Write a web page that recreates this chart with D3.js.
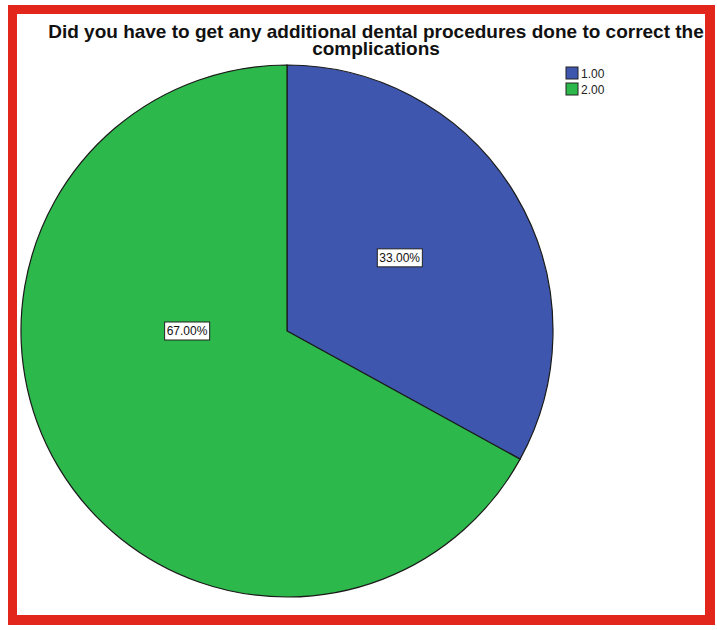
<!DOCTYPE html>
<html><head><meta charset="utf-8">
<script src="https://cdn.jsdelivr.net/npm/d3@7"></script>
<style>html,body{margin:0;padding:0;background:#fff;}svg{display:block;}</style>
</head><body>
<svg id="chart" width="717" height="630"></svg>
<script>
const categories = ["1.00", "2.00"];
const values = [33, 67];
const valueLabels = ["33.00%", "67.00%"];
const titleLines = ["Did you have to get any additional dental procedures done to correct the", "complications"];
const colors = ["#3E56AD", "#2DB84B"];

const svg = d3.select("#chart");
const W = 717, H = 630;
svg.append("rect").attr("width", W).attr("height", H).attr("fill", "#fff");

const cx = 287, cy = 331, R = 266;
const pie = d3.pie().sort(null).value(d => d)(values);
const arc = d3.arc().innerRadius(0).outerRadius(R);
const g = svg.append("g").attr("transform", `translate(${cx},${cy})`);
g.selectAll("path.slice").data(pie).join("path")
  .attr("class", "slice")
  .attr("d", arc)
  .attr("fill", (d, i) => colors[i])
  .attr("stroke", "#1a1a1a").attr("stroke-width", 1.2);

// label placement (angle in degrees from 12 o'clock, radius fraction)
const labelPlace = [[57, 0.505], [270, 0.376]];
pie.forEach((d, i) => {
  const a = labelPlace[i][0] * Math.PI / 180, r = labelPlace[i][1] * R;
  const x = Math.sin(a) * r, y = -Math.cos(a) * r;
  const lg = g.append("g").attr("transform", `translate(${x},${y})`);
  const t = lg.append("text").attr("text-anchor", "middle").attr("dy", "0.35em")
    .attr("font-family", "Liberation Sans, Arial, sans-serif").attr("font-size", 12)
    .attr("fill", "#111").text(valueLabels[i]);
  const bb = t.node().getBBox();
  lg.insert("rect", "text").attr("x", bb.x - 2).attr("y", -9).attr("width", bb.width + 4).attr("height", 18)
    .attr("fill", "#fff").attr("stroke", "#222").attr("stroke-width", 1);
});

// title
svg.append("text").attr("x", 376).attr("text-anchor", "middle")
  .attr("font-family", "Liberation Sans, Arial, sans-serif").attr("font-weight", "bold").attr("font-size", 19)
  .attr("fill", "#111")
  .selectAll("tspan").data(titleLines).join("tspan")
  .attr("x", 376).attr("y", (d, i) => 38 + i * 17).text(d => d);

// legend
const leg = svg.append("g").attr("transform", "translate(566,67)");
categories.forEach((c, i) => {
  leg.append("rect").attr("x", 0).attr("y", i * 16).attr("width", 12).attr("height", 12)
    .attr("fill", colors[i]).attr("stroke", "#222").attr("stroke-width", 1);
  leg.append("text").attr("x", 15).attr("y", i * 16 + 10.5)
    .attr("font-family", "Liberation Sans, Arial, sans-serif").attr("font-size", 12).attr("fill", "#222").text(c);
});

// red frame
svg.append("path")
  .attr("d", `M0,0H${W}V${H}H0Z M17,14V615H705V14Z`)
  .attr("fill-rule", "evenodd").attr("fill", "#fff");
svg.append("path")
  .attr("d", `M8,5H715V625H8Z M17,14V615H705V14Z`)
  .attr("fill-rule", "evenodd").attr("fill", "#E3261B");
</script>
</body></html>
